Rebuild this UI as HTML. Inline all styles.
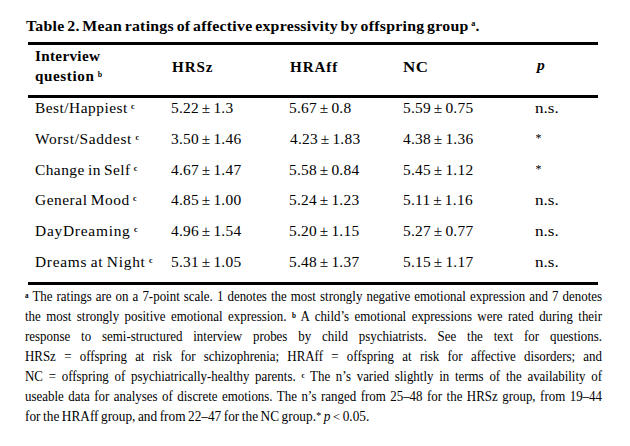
<!DOCTYPE html><html><head><meta charset="utf-8"><style>
html,body{margin:0;padding:0;background:#fff;}
body{width:630px;height:446px;position:relative;overflow:hidden;font-family:"Liberation Serif",serif;color:#000;}
.t{position:absolute;white-space:nowrap;transform-origin:0 0;}
.sup{font-size:0.52em;vertical-align:0.6em;font-weight:bold;line-height:0;}
.rule{position:absolute;left:28px;width:570px;height:3px;background:#000;}
.fl{position:absolute;left:25px;white-space:nowrap;transform-origin:0 0;text-align:justify;text-align-last:justify;}
.fsup{font-size:0.55em;vertical-align:0.45em;font-weight:bold;line-height:0;}
</style></head><body>
<div class="rule" style="top:42px"></div>
<div class="rule" style="top:95px"></div>
<div class="rule" style="top:282px"></div>
<div class="t" id="title" style="left:26.20px;top:18.02px;font-size:15.50px;line-height:15.50px;font-weight:bold;transform:scaleX(1.0200);word-spacing:-1.50px;letter-spacing:0.259px;">Table 2. Mean ratings of affective expressivity by offspring group <span class="sup b">a</span>.</div>
<div class="t" id="h_int" style="left:34.72px;top:50.27px;font-size:14.00px;line-height:14.00px;font-weight:bold;transform:scaleX(1.0800);letter-spacing:0.318px;">Interview</div>
<div class="t" id="h_q" style="left:35.02px;top:69.78px;font-size:14.00px;line-height:14.00px;font-weight:bold;transform:scaleX(1.0800);word-spacing:-1.00px;letter-spacing:0.552px;">question <span class="sup b">b</span></div>
<div class="t" id="h_hrsz" style="left:171.75px;top:60.98px;font-size:14.00px;line-height:14.00px;font-weight:bold;transform:scaleX(1.0800);letter-spacing:0.853px;">HRSz</div>
<div class="t" id="h_hraff" style="left:289.79px;top:60.98px;font-size:14.00px;line-height:14.00px;font-weight:bold;transform:scaleX(1.0800);letter-spacing:0.812px;">HRAff</div>
<div class="t" id="h_nc" style="left:402.80px;top:60.98px;font-size:14.00px;line-height:14.00px;font-weight:bold;transform:scaleX(1.2074);letter-spacing:0.500px;">NC</div>
<div class="t" id="h_p" style="left:536.60px;top:58.06px;font-size:14.50px;line-height:14.50px;font-weight:bold;font-style:italic;transform:scaleX(1.0723);">p</div>
<div class="t" id="r0_l" style="left:34.65px;top:102.28px;font-size:14.00px;line-height:14.00px;transform:scaleX(1.1000);word-spacing:-1.00px;letter-spacing:0.446px;">Best/Happiest <span class="sup">c</span></div>
<div class="t" id="r0_a" style="left:171.12px;top:102.28px;font-size:14.00px;line-height:14.00px;transform:scaleX(1.1000);word-spacing:-1.20px;letter-spacing:0.250px;">5.22 ± 1.3</div>
<div class="t" id="r0_b" style="left:288.98px;top:102.28px;font-size:14.00px;line-height:14.00px;transform:scaleX(1.1000);word-spacing:-1.20px;letter-spacing:0.250px;">5.67 ± 0.8</div>
<div class="t" id="r0_c" style="left:403.08px;top:102.28px;font-size:14.00px;line-height:14.00px;transform:scaleX(1.1000);word-spacing:-1.20px;letter-spacing:0.250px;">5.59 ± 0.75</div>
<div class="t" id="r0_p" style="left:534.98px;top:102.28px;font-size:14.00px;line-height:14.00px;transform:scaleX(1.2210);">n.s.</div>
<div class="t" id="r1_l" style="left:35.41px;top:133.28px;font-size:14.00px;line-height:14.00px;transform:scaleX(1.1000);word-spacing:-1.00px;letter-spacing:0.587px;">Worst/Saddest <span class="sup">c</span></div>
<div class="t" id="r1_a" style="left:171.20px;top:133.28px;font-size:14.00px;line-height:14.00px;transform:scaleX(1.1000);word-spacing:-1.20px;letter-spacing:0.250px;">3.50 ± 1.46</div>
<div class="t" id="r1_b" style="left:290.28px;top:133.28px;font-size:14.00px;line-height:14.00px;transform:scaleX(1.1000);word-spacing:-1.20px;letter-spacing:0.250px;">4.23 ± 1.83</div>
<div class="t" id="r1_c" style="left:403.33px;top:133.28px;font-size:14.00px;line-height:14.00px;transform:scaleX(1.1000);word-spacing:-1.20px;letter-spacing:0.250px;">4.38 ± 1.36</div>
<div class="t" id="r1_p" style="left:535.56px;top:132.45px;font-size:12.00px;line-height:12.00px;">*</div>
<div class="t" id="r2_l" style="left:34.69px;top:164.28px;font-size:14.00px;line-height:14.00px;transform:scaleX(1.1000);word-spacing:-1.00px;letter-spacing:0.410px;">Change in Self <span class="sup">c</span></div>
<div class="t" id="r2_a" style="left:171.36px;top:164.28px;font-size:14.00px;line-height:14.00px;transform:scaleX(1.1000);word-spacing:-1.20px;letter-spacing:0.250px;">4.67 ± 1.47</div>
<div class="t" id="r2_b" style="left:289.04px;top:164.28px;font-size:14.00px;line-height:14.00px;transform:scaleX(1.1000);word-spacing:-1.20px;letter-spacing:0.250px;">5.58 ± 0.84</div>
<div class="t" id="r2_c" style="left:403.09px;top:164.28px;font-size:14.00px;line-height:14.00px;transform:scaleX(1.1000);word-spacing:-1.20px;letter-spacing:0.250px;">5.45 ± 1.12</div>
<div class="t" id="r2_p" style="left:535.56px;top:163.45px;font-size:12.00px;line-height:12.00px;">*</div>
<div class="t" id="r3_l" style="left:34.68px;top:194.28px;font-size:14.00px;line-height:14.00px;transform:scaleX(1.1000);word-spacing:-1.00px;letter-spacing:0.482px;">General Mood <span class="sup">c</span></div>
<div class="t" id="r3_a" style="left:171.36px;top:194.28px;font-size:14.00px;line-height:14.00px;transform:scaleX(1.1000);word-spacing:-1.20px;letter-spacing:0.250px;">4.85 ± 1.00</div>
<div class="t" id="r3_b" style="left:289.03px;top:194.28px;font-size:14.00px;line-height:14.00px;transform:scaleX(1.1000);word-spacing:-1.20px;letter-spacing:0.250px;">5.24 ± 1.23</div>
<div class="t" id="r3_c" style="left:403.09px;top:194.28px;font-size:14.00px;line-height:14.00px;transform:scaleX(1.1000);word-spacing:-1.20px;letter-spacing:0.250px;">5.11 ± 1.16</div>
<div class="t" id="r3_p" style="left:534.98px;top:194.28px;font-size:14.00px;line-height:14.00px;transform:scaleX(1.2210);">n.s.</div>
<div class="t" id="r4_l" style="left:34.61px;top:225.28px;font-size:14.00px;line-height:14.00px;transform:scaleX(1.1000);word-spacing:-1.00px;letter-spacing:0.690px;">DayDreaming <span class="sup">c</span></div>
<div class="t" id="r4_a" style="left:171.37px;top:225.28px;font-size:14.00px;line-height:14.00px;transform:scaleX(1.1000);word-spacing:-1.20px;letter-spacing:0.250px;">4.96 ± 1.54</div>
<div class="t" id="r4_b" style="left:289.05px;top:225.28px;font-size:14.00px;line-height:14.00px;transform:scaleX(1.1000);word-spacing:-1.20px;letter-spacing:0.250px;">5.20 ± 1.15</div>
<div class="t" id="r4_c" style="left:403.08px;top:225.28px;font-size:14.00px;line-height:14.00px;transform:scaleX(1.1000);word-spacing:-1.20px;letter-spacing:0.250px;">5.27 ± 0.77</div>
<div class="t" id="r4_p" style="left:534.98px;top:225.28px;font-size:14.00px;line-height:14.00px;transform:scaleX(1.2210);">n.s.</div>
<div class="t" id="r5_l" style="left:34.65px;top:256.27px;font-size:14.00px;line-height:14.00px;transform:scaleX(1.1000);word-spacing:-1.00px;letter-spacing:0.666px;">Dreams at Night <span class="sup">c</span></div>
<div class="t" id="r5_a" style="left:171.15px;top:256.27px;font-size:14.00px;line-height:14.00px;transform:scaleX(1.1000);word-spacing:-1.20px;letter-spacing:0.250px;">5.31 ± 1.05</div>
<div class="t" id="r5_b" style="left:289.03px;top:256.27px;font-size:14.00px;line-height:14.00px;transform:scaleX(1.1000);word-spacing:-1.20px;letter-spacing:0.250px;">5.48 ± 1.37</div>
<div class="t" id="r5_c" style="left:403.08px;top:256.27px;font-size:14.00px;line-height:14.00px;transform:scaleX(1.1000);word-spacing:-1.20px;letter-spacing:0.250px;">5.15 ± 1.17</div>
<div class="t" id="r5_p" style="left:534.98px;top:256.27px;font-size:14.00px;line-height:14.00px;transform:scaleX(1.2210);">n.s.</div>
<div class="fl" id="f0" style="top:289.61px;font-size:13.60px;line-height:13.60px;width:607.37px;transform:scaleX(0.9500);word-spacing:-0.80px;"><span class="fsup">a</span> The ratings are on a 7-point scale. 1 denotes the most strongly negative emotional expression and 7 denotes</div>
<div class="fl" id="f1" style="top:309.61px;font-size:13.60px;line-height:13.60px;width:607.37px;transform:scaleX(0.9500);word-spacing:-0.80px;">the most strongly positive emotional expression. <span class="fsup">b</span> A child’s emotional expressions were rated during their</div>
<div class="fl" id="f2" style="top:329.61px;font-size:13.60px;line-height:13.60px;width:607.37px;transform:scaleX(0.9500);word-spacing:-0.80px;">response to semi-structured interview probes by child psychiatrists. See the text for questions.</div>
<div class="fl" id="f3" style="top:349.61px;font-size:13.60px;line-height:13.60px;width:607.37px;transform:scaleX(0.9500);word-spacing:-0.80px;">HRSz = offspring at risk for schizophrenia; HRAff = offspring at risk for affective disorders; and</div>
<div class="fl" id="f4" style="top:369.61px;font-size:13.60px;line-height:13.60px;width:607.37px;transform:scaleX(0.9500);word-spacing:-0.80px;">NC = offspring of psychiatrically-healthy parents. <span class="fsup">c</span> The n’s varied slightly in terms of the availability of</div>
<div class="fl" id="f5" style="top:389.61px;font-size:13.60px;line-height:13.60px;width:607.37px;transform:scaleX(0.9500);word-spacing:-0.80px;">useable data for analyses of discrete emotions. The n’s ranged from 25–48 for the HRSz group, from 19–44</div>
<div class="fl" id="f6" style="top:409.61px;font-size:13.60px;line-height:13.60px;text-align-last:left;transform:scaleX(0.9778);word-spacing:-0.80px;">for the HRAff group, and from 22–47 for the NC group.<span style="font-size:0.8em;vertical-align:0.15em;line-height:0">*</span> <i>p</i> <span style="font-size:0.95em;line-height:0">&lt;</span> 0.05.</div>
</body></html>
